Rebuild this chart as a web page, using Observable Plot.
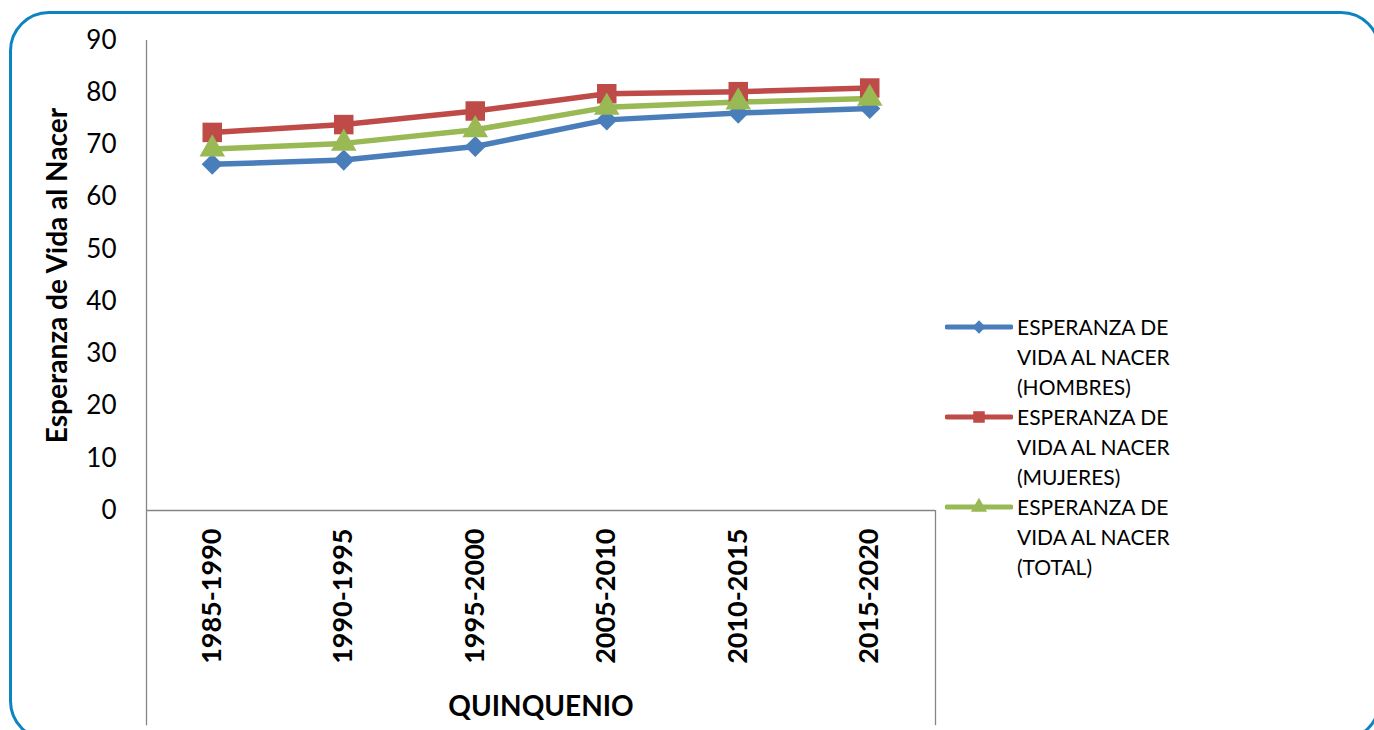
<!DOCTYPE html>
<html>
<head>
<meta charset="utf-8">
<script src="https://cdn.jsdelivr.net/npm/d3@7"></script>
<script src="https://cdn.jsdelivr.net/npm/@observablehq/plot@0.6"></script>
<style>
  html, body { margin: 0; padding: 0; background: #fff; overflow: hidden; }
  body { width: 1374px; height: 730px; position: relative; font-family: Lato, "Open Sans", sans-serif; }
  #frame { position: absolute; left: 9px; top: 11px; width: 1372px; height: 730px; border: 3px solid #0b84c0; border-radius: 40px; box-sizing: border-box; }
  #chart { position: absolute; left: 0; top: 0; }
  #legend { position: absolute; left: 945px; top: 312px; }
  .item { display: flex; align-items: flex-start; }
  .item svg { flex: none; }
  .item .txt { font-size: 21px; line-height: 30px; color: #000; margin-left: 4px; }
</style>
</head>
<body>
<div id="frame"></div>
<div id="chart"></div>
<div id="legend"></div>
<script>
const categories = ["1985-1990", "1990-1995", "1995-2000", "2005-2010", "2010-2015", "2015-2020"];
const hombres = [66.3, 67.1, 69.7, 74.8, 76.1, 77.0];
const mujeres = [72.4, 73.9, 76.5, 79.8, 80.2, 80.9];
const total   = [69.2, 70.3, 72.9, 77.2, 78.2, 78.9];
const seriesNames = [
  "ESPERANZA DE VIDA AL NACER (HOMBRES)",
  "ESPERANZA DE VIDA AL NACER (MUJERES)",
  "ESPERANZA DE VIDA AL NACER (TOTAL)"
];
const legendLines = [
  ["ESPERANZA DE", "VIDA AL NACER", "(HOMBRES)"],
  ["ESPERANZA DE", "VIDA AL NACER", "(MUJERES)"],
  ["ESPERANZA DE", "VIDA AL NACER", "(TOTAL)"]
];
const seriesColors = ["#4a7ebb", "#be4b48", "#98b954"];
const seriesSymbols = ["diamond2", "square", "triangle"];
const markerRadius = [9.5, 11, 9.5];
const legendMarkerRadius = [6, 6.5, 6];
const yTicks = [0, 10, 20, 30, 40, 50, 60, 70, 80, 90];
const yTitle = "Esperanza de Vida al Nacer";
const xTitle = "QUINQUENIO";
const axisFloor = -41.2;

const seriesValues = [hombres, mujeres, total];
const rows = seriesValues.flatMap((vals, s) =>
  vals.map((v, i) => ({ i, v, s: seriesNames[s] })));
const xIdx = categories.map((_, i) => i);
const lo = -0.5, hi = categories.length - 0.5;
const axisColor = "#868686";

const chart = Plot.plot({
  width: 1374,
  height: 730,
  marginLeft: 146,
  marginRight: 439,
  marginTop: 40,
  marginBottom: 220,
  style: { fontFamily: "Lato, 'Open Sans', sans-serif", color: "#000", background: "transparent" },
  x: { type: "linear", domain: [lo, hi] },
  y: { domain: [0, 90] },
  color: { domain: seriesNames, range: seriesColors },
  symbol: { domain: seriesNames, range: seriesSymbols },
  marks: [
    Plot.ruleX([lo], { y1: 90, y2: axisFloor, stroke: axisColor, strokeWidth: 1.3 }),
    Plot.ruleX([hi], { y1: 0, y2: axisFloor, stroke: axisColor, strokeWidth: 1.3 }),
    Plot.ruleY([0], { x1: lo, x2: hi, stroke: axisColor, strokeWidth: 1.3 }),
    Plot.axisY({ ticks: yTicks, tickSize: 0, tickPadding: 30, fontSize: 26, label: null }),
    Plot.axisX({ ticks: xIdx, tickFormat: i => categories[i], tickSize: 0, tickPadding: 18,
                 tickRotate: -90, fontSize: 27, fontWeight: "bold", label: null }),
    Plot.text([yTitle], { frameAnchor: "left", textAnchor: "middle", rotate: -90, dx: -88, fontSize: 28, fontWeight: "bold", fill: "#000" }),
    Plot.text([xTitle], { frameAnchor: "bottom", dy: 197, lineAnchor: "middle", fontSize: 28, fontWeight: "bold", fill: "#000" }),
    Plot.line(rows, { x: "i", y: "v", z: "s", stroke: "s", strokeWidth: 5.5 }),
    ...seriesNames.map((name, s) =>
      Plot.dot(rows.filter(d => d.s === name), { x: "i", y: "v", symbol: "s", fill: "s", stroke: "none", r: markerRadius[s] }))
  ]
});
document.getElementById("chart").appendChild(chart);

// Legend (HTML, swatches built from series definitions)
const legend = document.getElementById("legend");
const symMap = { diamond2: d3.symbolDiamond2, square: d3.symbolSquare, triangle: d3.symbolTriangle };
seriesNames.forEach((name, s) => {
  const item = document.createElement("div");
  item.className = "item";
  const sw = d3.create("svg").attr("width", 68).attr("height", 30);
  sw.append("line").attr("x1", 2).attr("x2", 66).attr("y1", 15).attr("y2", 15)
    .attr("stroke", seriesColors[s]).attr("stroke-width", 5).attr("stroke-linecap", "round");
  const rr = legendMarkerRadius[s];
  sw.append("path").attr("transform", "translate(34,15)")
    .attr("d", d3.symbol(symMap[seriesSymbols[s]], Math.PI * rr * rr)())
    .attr("fill", seriesColors[s]);
  item.appendChild(sw.node());
  const txt = document.createElement("div");
  txt.className = "txt";
  txt.innerHTML = legendLines[s].join("<br>");
  item.appendChild(txt);
  legend.appendChild(item);
});
</script>
</body>
</html>
